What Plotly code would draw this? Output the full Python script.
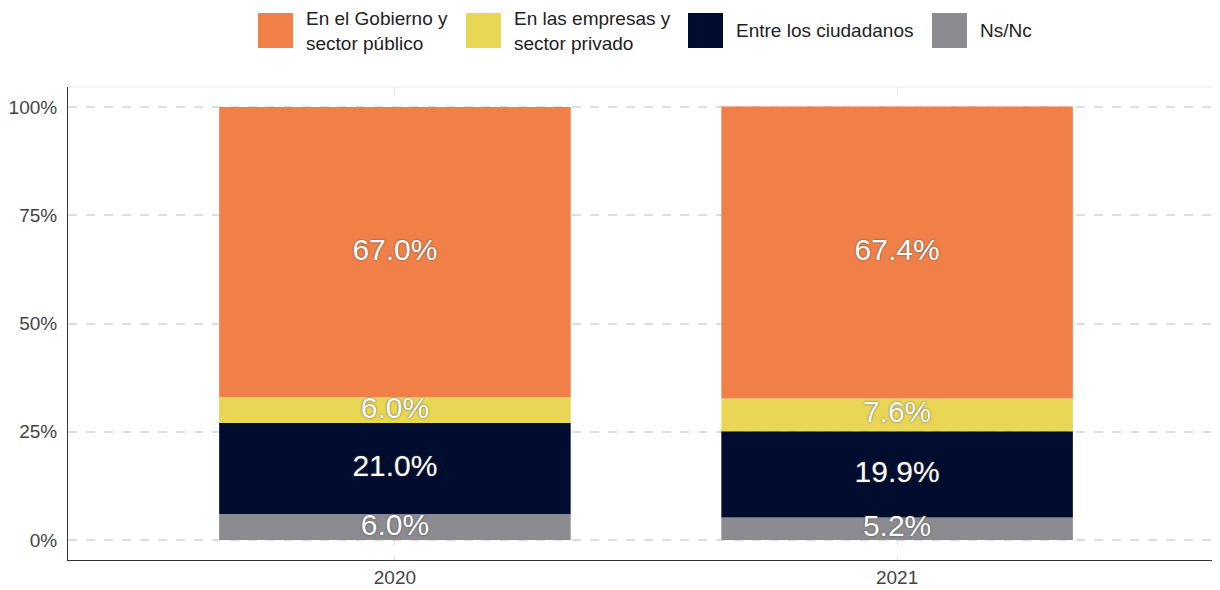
import plotly.graph_objects as go

years = ["2020", "2021"]
series_names = ["Ns/Nc", "Entre los ciudadanos", "En las empresas y sector privado", "En el Gobierno y sector público"]
ns_nc = [6.0, 5.2]
ciudadanos = [21.0, 19.9]
empresas = [6.0, 7.6]
gobierno = [67.0, 67.4]
y_ticks = [0, 25, 50, 75, 100]
y_tick_labels = ["0%", "25%", "50%", "75%", "100%"]

legend_labels = ["En el Gobierno y<br>sector público", "En las empresas y<br>sector privado",
                 "Entre los ciudadanos", "Ns/Nc"]

colors = {
    "Ns/Nc": "#8B8B90",
    "Entre los ciudadanos": "#000D2E",
    "En las empresas y sector privado": "#E9D655",
    "En el Gobierno y sector público": "#F08047",
}

data = [ns_nc, ciudadanos, empresas, gobierno]
xpos = list(range(len(years)))

fig = go.Figure()
base = [0.0] * len(years)
lab_x, lab_y, lab_t = [], [], []
for name, vals in zip(series_names, data):
    fig.add_trace(go.Bar(x=xpos, y=vals, base=base[:], name=name, width=0.7,
                         marker=dict(color=colors[name], line=dict(width=0)),
                         showlegend=False))
    for i, v in enumerate(vals):
        lab_x.append(xpos[i])
        lab_y.append(base[i] + v / 2)
        lab_t.append(f"{v:.1f}%")
    base = [b + v for b, v in zip(base, vals)]

fig.add_trace(go.Scatter(x=lab_x, y=lab_y, text=lab_t, mode="text", showlegend=False,
                         textfont=dict(family="Liberation Sans, Arial, sans-serif", size=30,
                                       color="white", shadow="0px 0px 2px #444"),
                         hoverinfo="skip"))

# page has an 8px body margin: figure origin at (8, 8)
OFF = 8
L, T, R, B = 68 - OFF, 87 - OFF, 0, 30
FW, FH = 1220 - OFF, 590 - OFF

fig.update_layout(
    width=FW, height=FH,
    margin=dict(l=L, r=R, t=T, b=B),
    plot_bgcolor="white", paper_bgcolor="white",
    barmode="overlay",
    font=dict(family="Liberation Sans, Arial, sans-serif", color="#444"),
    xaxis=dict(range=[-0.651, 1.643], tickmode="array", tickvals=xpos, ticktext=years,
               showgrid=True, gridcolor="#e6e6e6", griddash="dash", gridwidth=1,
               showline=True, linecolor="#333", linewidth=1, zeroline=False,
               tickfont=dict(size=19, color="#444"), ticks=""),
    yaxis=dict(range=[-4.6, 104.6], tickmode="array", tickvals=y_ticks, ticktext=y_tick_labels,
               showgrid=True, gridcolor="#dedede", griddash="dash", gridwidth=1.5,
               showline=True, linecolor="#333", linewidth=1, zeroline=False,
               tickfont=dict(size=19, color="#444"), ticks="", ticklabelstandoff=6),
)

# top panel border
fig.add_shape(type="line", xref="paper", yref="paper", x0=0, x1=1, y0=1, y1=1,
              line=dict(color="#e8e8e8", width=1))

# manual legend (page pixel coordinates converted to paper)
W, H = 1152, 473
def px_x(p):
    return (p - 68) / W
def px_y(p):
    return (560 - p) / H

legend_order = ["En el Gobierno y sector público", "En las empresas y sector privado",
                "Entre los ciudadanos", "Ns/Nc"]
sw_x = [258, 466, 688, 932]
for name, lab, sx in zip(legend_order, legend_labels, sw_x):
    fig.add_shape(type="rect", xref="paper", yref="paper",
                  x0=px_x(sx), x1=px_x(sx + 35), y0=px_y(48), y1=px_y(13),
                  fillcolor=colors[name], line=dict(width=0))
    fig.add_annotation(xref="paper", yref="paper", x=px_x(sx + 46), y=px_y(30.5),
                       text=lab, showarrow=False, xanchor="left", yanchor="middle",
                       align="left", font=dict(size=19, color="#222"))

fig.write_html("out.html")
